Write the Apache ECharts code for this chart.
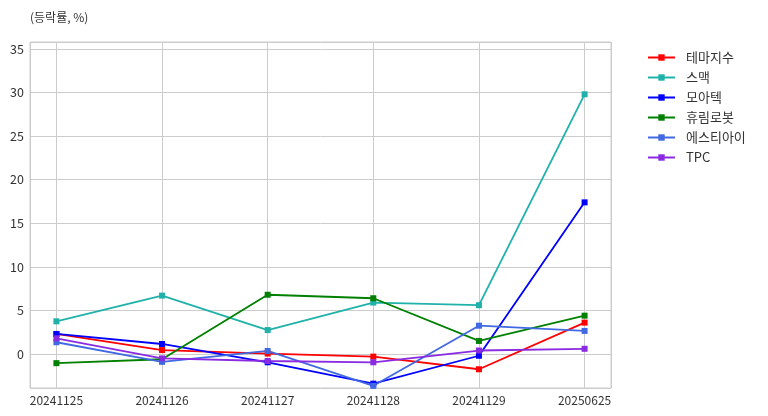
<!DOCTYPE html>
<html>
<head>
<meta charset="utf-8">
<script src="https://cdn.jsdelivr.net/npm/echarts@6/dist/echarts.min.js"></script>
<style>html,body{margin:0;padding:0;background:#fff}#c{width:768px;height:416px}</style>
</head>
<body>
<div id="c"></div>
<script>
const categories = ['20241125', '20241126', '20241127', '20241128', '20241129', '20250625'];
const seriesNames = ['테마지수', '스맥', '모아텍', '휴림로봇', '에스티아이', 'TPC'];
const seriesColors = ['#ff0000', '#20b2aa', '#0000ff', '#008000', '#4169e1', '#8a2be2'];
const themeIndex = [2.3, 0.45, 0.05, -0.3, -1.75, 3.6];
const smac = [3.75, 6.7, 2.75, 5.9, 5.6, 29.8];
const moatech = [2.3, 1.15, -0.95, -3.4, -0.2, 17.4];
const hyulimRobot = [-1.05, -0.6, 6.8, 6.4, 1.5, 4.4];
const sti = [1.35, -0.9, 0.35, -3.65, 3.25, 2.65];
const tpc = [1.8, -0.5, -0.8, -0.95, 0.4, 0.6];
const allValues = [themeIndex, smac, moatech, hyulimRobot, sti, tpc];

const FONT = '"Noto Sans CJK KR", "Noto Sans", sans-serif';
const chart = echarts.init(document.getElementById('c'));
chart.setOption({
  backgroundColor: '#ffffff',
  animation: false,
  title: {
    text: '(등락률, %)', left: 25, top: 6,
    textStyle: { fontSize: 12, fontWeight: 'normal', color: '#333', fontFamily: FONT }
  },
  legend: {
    orient: 'vertical', left: 642, top: 46,
    itemWidth: 27, itemHeight: 8, itemGap: 7,
    textStyle: { fontSize: 13, color: '#333', fontFamily: FONT, padding: [0, 0, 0, 6] },
    data: seriesNames
  },
  grid: { left: 30, right: 157, top: 42, bottom: 28, show: true, borderColor: '#cccccc', borderWidth: 1, containLabel: false },
  xAxis: {
    type: 'value', min: -0.25, max: 5.25, splitNumber: 5,
    axisLine: { show: false }, axisTick: { show: false },
    splitLine: { show: true, lineStyle: { color: '#cccccc', width: 1 } },
    axisLabel: {
      color: '#333', fontSize: 12, fontFamily: FONT, margin: 6,
      showMinLabel: false, showMaxLabel: false,
      formatter: v => (Number.isInteger(v) && v >= 0 && v < categories.length) ? categories[v] : ''
    }
  },
  yAxis: {
    type: 'value', min: -3.9, max: 35.8, splitNumber: 8,
    axisLine: { show: false }, axisTick: { show: false },
    splitLine: { show: true, lineStyle: { color: '#cccccc', width: 1 } },
    axisLabel: {
      color: '#333', fontSize: 12.5, fontFamily: FONT, margin: 6,
      showMinLabel: false, showMaxLabel: false,
      formatter: v => (Math.abs(v % 5) < 1e-9) ? String(v) : ''
    }
  },
  series: seriesNames.map((name, i) => ({
    name, type: 'line',
    data: allValues[i].map((v, j) => [j, v]),
    symbol: 'rect', symbolSize: 6, showSymbol: true,
    lineStyle: { width: 1.8, color: seriesColors[i] },
    itemStyle: { color: seriesColors[i] },
    emphasis: { disabled: true }
  }))
});
</script>
</body>
</html>
